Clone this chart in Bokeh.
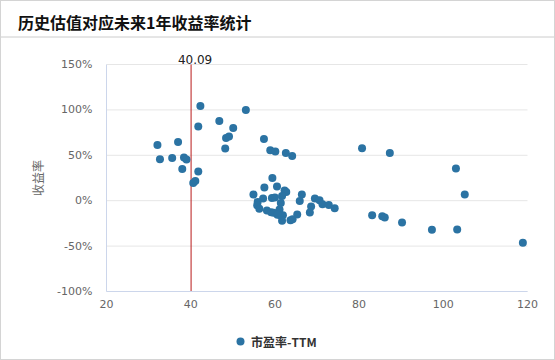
from bokeh.plotting import figure
from bokeh.models import (ColumnDataSource, Span, Label, Legend, LegendItem,
                          FixedTicker, InlineStyleSheet)
from bokeh.embed import file_html
from bokeh.resources import INLINE

# ---------------- data ----------------
title_text = "历史估值对应未来1年收益率统计"
series_name = "市盈率-TTM"
y_axis_title = "收益率"
current_pe = 40.09
current_pe_label = "40.09"

pe_ttm = [42.3, 46.8, 41.8, 32.1, 37.0, 32.7, 35.6, 38.4, 39.0, 38.0, 41.8, 41.1, 40.6,
          53.1, 50.1, 48.4, 49.1, 48.2, 57.4, 58.9, 60.1, 62.6, 64.1,
          59.4, 57.5, 60.5, 62.3, 62.7, 61.7, 66.4, 54.9, 57.2, 59.3, 60.0, 55.9, 55.8,
          61.4, 65.9, 56.3, 69.5, 70.6, 71.3, 72.8, 74.2, 68.6, 68.3, 58.1, 59.1, 59.7,
          61.1, 61.3, 61.9, 60.6, 61.7, 63.7, 64.2, 65.3,
          80.7, 87.3, 103.0, 105.1, 83.1, 85.5, 86.1, 90.2, 97.3, 103.3, 118.9]
future_return_pct = [104.3, 87.8, 81.6, 61.4, 64.7, 45.7, 47.1, 47.5, 45.3, 35.0, 32.1, 21.8, 19.6,
                     99.9, 80.1, 69.1, 70.6, 57.4, 68.0, 55.6, 54.1, 52.6, 49.3,
                     25.1, 14.5, 15.6, 11.2, 9.7, 5.3, 6.8, 6.8, 2.4, 3.1, 3.5, -1.3, -4.9,
                     -2.4, -0.2, -9.0, 2.4, 0.5, -3.9, -4.6, -8.3, -6.4, -13.0, -10.8, -12.7, -13.4,
                     -9.7, -16.0, -16.0, -15.6, -22.2, -21.5, -20.4, -15.2,
                     57.8, 52.6, 35.4, 6.8, -16.0, -17.1, -18.5, -24.0, -32.1, -31.7, -46.4]

x_ticks = [20, 40, 60, 80, 100, 120]
y_ticks = [-100, -50, 0, 50, 100, 150]
y_tick_labels = ["-100%", "-50%", "0%", "50%", "100%", "150%"]
x_min, x_max = 20, 120
y_min, y_max = -100, 150

# ---------------- layout (pixels) ----------------
W, H = 555, 360
PX_LEFT, PX_RIGHT = 106, 527      # plot area, x
PX_TOP, PX_BOTTOM = 64, 291       # plot area, y

sx = (PX_RIGHT - PX_LEFT) / (x_max - x_min)
sy = (PX_BOTTOM - PX_TOP) / (y_max - y_min)


def px2x(px):
    return x_min + (px - PX_LEFT) / sx


def px2y(py):
    return y_max + (PX_TOP - py) / sy


card_css = InlineStyleSheet(css="""
:host { position: relative; }
:host::before { content: ""; position: absolute; left: 0; top: 0; right: 0; bottom: 0;
  border: 1px solid #d4d4d4; box-sizing: border-box; pointer-events: none; z-index: 5; }
""")

p = figure(width=W, height=H, x_range=(px2x(0), px2x(W)), y_range=(px2y(H), px2y(0)),
           output_backend="svg", toolbar_location=None, title=None,
           min_border=0, stylesheets=[card_css])
p.outline_line_color = None
p.xgrid.visible = False
p.ygrid.visible = False

# title and separator
p.add_layout(Label(x=px2x(17.5), y=px2y(21.5), text=title_text, text_baseline="middle",
                   text_align="left", text_font="Noto Sans CJK SC",
                   text_font_size="16px", text_font_style="bold",
                   text_color="#111111"))
p.add_layout(Span(location=px2y(36.5), dimension="width", line_color="#cccccc",
                  line_width=1))

# horizontal grid lines
p.segment(x0=[x_min] * len(y_ticks), x1=[x_max] * len(y_ticks), y0=y_ticks, y1=y_ticks,
          line_color="#e6e6e6", line_width=1)

# current valuation marker
p.segment(x0=[current_pe], x1=[current_pe], y0=[y_min], y1=[y_max],
          line_color="#b81a1a", line_width=1)
p.add_layout(Label(x=current_pe, y=y_max, text=current_pe_label, text_align="center",
                   text_baseline="bottom", x_offset=4, y_offset=1,
                   text_font="DejaVu Sans", text_font_size="12px",
                   text_color="#222222"))

src = ColumnDataSource(dict(x=pe_ttm, y=future_return_pct))
pts = p.scatter("x", "y", source=src, size=8, fill_color="#2b73a3",
                line_color=None)

# axes, fixed at the edges of the plot area
xa = p.xaxis[0]
ya = p.yaxis[0]
xa.fixed_location = y_min
ya.fixed_location = x_min
xa.bounds = (x_min, x_max)
ya.bounds = (y_min, y_max)
xa.ticker = FixedTicker(ticks=x_ticks)
ya.ticker = FixedTicker(ticks=y_ticks)
ya.major_label_overrides = {t: l for t, l in zip(y_ticks, y_tick_labels)}
for ax in (xa, ya):
    ax.axis_line_color = "#ccd6eb"
    ax.major_tick_line_color = None
    ax.major_tick_out = 0
    ax.major_tick_in = 0
    ax.minor_tick_line_color = None
    ax.major_label_text_color = "#666666"
    ax.major_label_text_font = "DejaVu Sans"
    ax.major_label_text_font_size = "11px"
ya.major_label_standoff = 14
xa.major_label_standoff = 8
ya.axis_label = y_axis_title
ya.axis_label_text_font = "Noto Sans CJK SC"
ya.axis_label_text_font_size = "12px"
ya.axis_label_text_font_style = "normal"
ya.axis_label_text_color = "#666666"
ya.axis_label_standoff = 8

legend = Legend(items=[LegendItem(label=series_name, renderers=[pts])],
                location=(230, 9), orientation="horizontal", margin=0,
                glyph_width=20, glyph_height=20, padding=2, label_standoff=1,
                border_line_color=None, background_fill_alpha=0,
                label_text_font="Noto Sans CJK SC", label_text_font_size="12px",
                label_text_font_style="bold", label_text_color="#333333")
p.add_layout(legend, "center")

open("out.html", "w").write(file_html(p, INLINE))
